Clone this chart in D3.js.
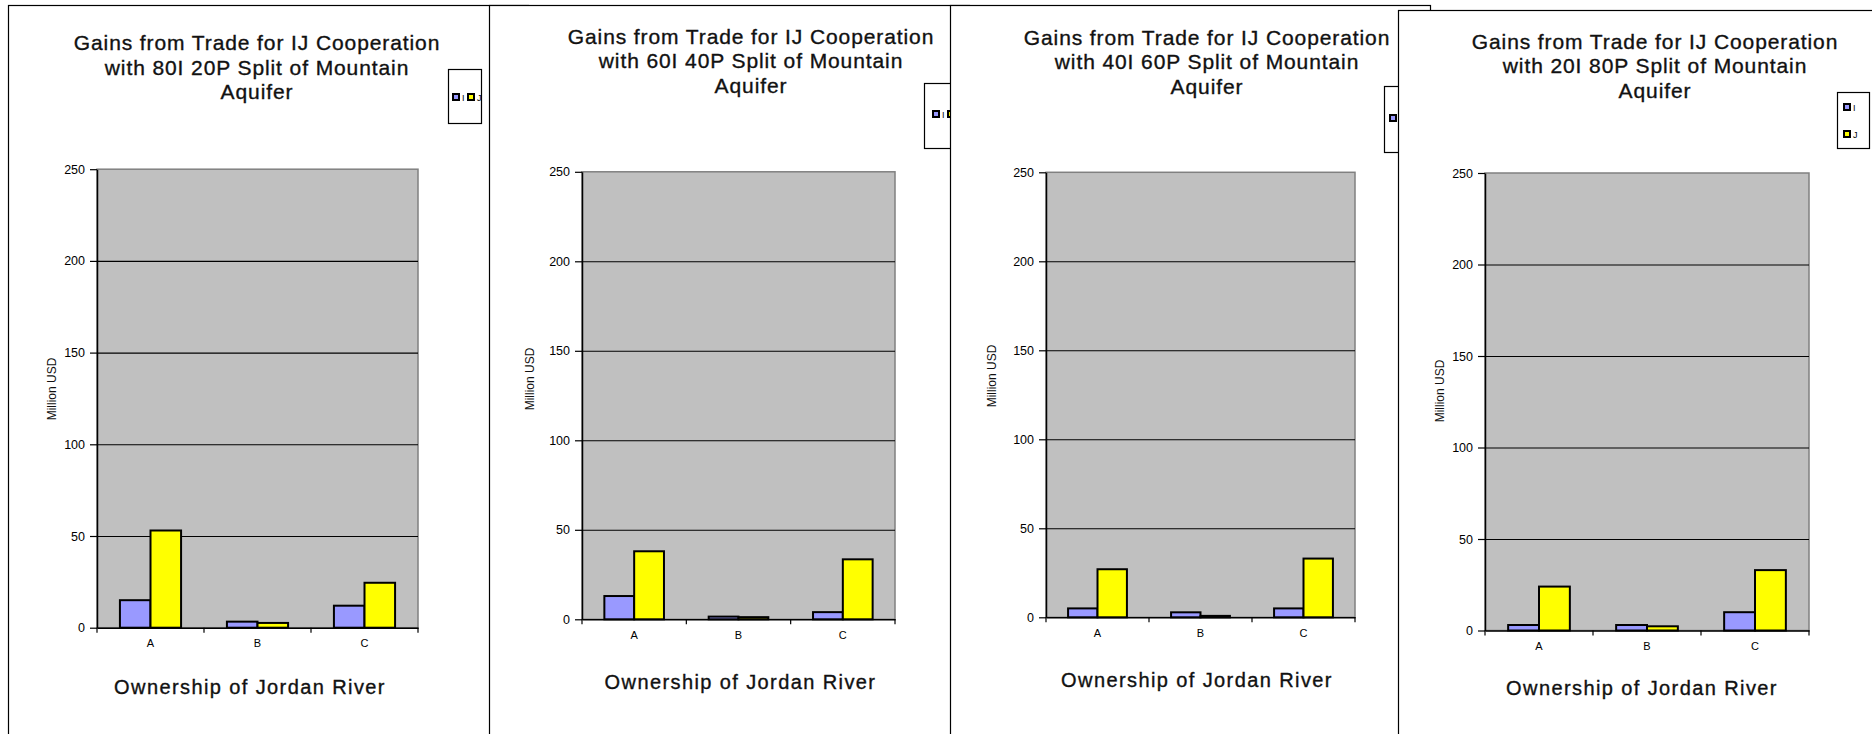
<!DOCTYPE html>
<html>
<head>
<meta charset="utf-8">
<script src="https://cdn.jsdelivr.net/npm/d3@7"></script>
<style>
  html, body { margin: 0; padding: 0; background: #fff; }
  svg { display: block; font-family: "Liberation Sans", Arial, sans-serif; }
</style>
</head>
<body>
<svg id="chart" width="1872" height="734"></svg>
<script>
// ---- data ----
const categories = ["A", "B", "C"];
const seriesNames = ["I", "J"];
const splits = ["80I 20P", "60I 40P", "40I 60P", "20I 80P"];
const valuesI = [
  [15, 3.3, 12],
  [13, 1.5, 4],
  [5, 2.8, 5],
  [3, 3, 10]
];
const valuesJ = [
  [53, 2.6, 24.5],
  [38, 1.2, 33.5],
  [27, 0.8, 33],
  [24, 2.3, 33]
];
const yTicks = [0, 50, 100, 150, 200, 250];
const xTitle = "Ownership of Jordan River";
const yTitle = "Million USD";

// ---- layout (positions only) ----
const layout = [
  {px: 8, py: 5, pw: 520, left: 97, right: 418, y0: 627.7, yTop: 169.2, tcx: 257, ty: 42.5, xtx: 250, xty: 687, ylx: 52, yly: 389,
   legend: {x: 448, y: 69, w: 33, h: 54, dir: "h", ex: 452, ey: 97}},
  {px: 489, py: 5, pw: 480, left: 582, right: 895, y0: 619.3, yTop: 171.8, tcx: 751, ty: 36, xtx: 740.5, xty: 682, ylx: 530, yly: 379,
   legend: {x: 924, y: 83, w: 40, h: 65, dir: "h", ex: 932, ey: 114}},
  {px: 950, py: 5, pw: 480, left: 1046, right: 1355, y0: 617.3, yTop: 172.3, tcx: 1207, ty: 37, xtx: 1197, xty: 680, ylx: 992, yly: 376,
   legend: {x: 1384, y: 86, w: 40, h: 66, dir: "h", ex: 1389, ey: 118}},
  {px: 1398, py: 10, pw: 500, left: 1485, right: 1809, y0: 630.5, yTop: 173, tcx: 1655, ty: 41, xtx: 1642, xty: 688, ylx: 1440, yly: 391,
   legend: {x: 1837, y: 92, w: 32, h: 56, dir: "v", ex: 1843, ey: 107}}
];

const colors = {I: "#9999FF", J: "#FFFF00"};
const svg = d3.select("#chart");
const defs = svg.append("defs");

layout.forEach((L, i) => {
  const g = svg.append("g");
  // panel background/border (later panels cover earlier ones)
  g.append("rect")
    .attr("x", L.px + 0.5).attr("y", L.py + 0.5)
    .attr("width", L.pw).attr("height", 800)
    .attr("fill", "#fff").attr("stroke", "#000").attr("stroke-width", 1.2);

  const x = d3.scaleBand().domain(categories).range([L.left, L.right]).paddingInner(0).paddingOuter(0);
  const x1 = d3.scaleBand().domain(seriesNames).range([0, x.bandwidth()]).paddingInner(0).paddingOuter(0.75);
  const y = d3.scaleLinear().domain([0, 250]).range([L.y0, L.yTop]);

  // plot area
  g.append("rect")
    .attr("x", L.left).attr("y", y(250))
    .attr("width", L.right - L.left).attr("height", y(0) - y(250))
    .attr("fill", "#C0C0C0").attr("stroke", "#808080").attr("stroke-width", 1.5);

  // gridlines
  const grid = g.append("g").attr("transform", `translate(${L.left},0)`)
    .call(d3.axisLeft(y).tickValues(yTicks.filter(t => t > 0 && t < 250)).tickSize(-(L.right - L.left)).tickFormat(""));
  grid.select(".domain").remove();
  grid.selectAll("line").attr("stroke", "#000").attr("stroke-width", 1.1);

  // y axis
  const ya = g.append("g").attr("transform", `translate(${L.left},0)`)
    .call(d3.axisLeft(y).tickValues(yTicks).tickSize(7).tickPadding(5).tickSizeOuter(0));
  ya.select(".domain").attr("stroke", "#000").attr("stroke-width", 1.5);
  ya.selectAll("line").attr("stroke", "#000").attr("stroke-width", 1.2);
  ya.selectAll("text").attr("font-size", 12.5).attr("fill", "#000")
    .attr("font-family", "'Liberation Sans', Arial, sans-serif");

  // bars
  const rows = categories.map((c, k) => ({c, vals: [{s: "I", v: valuesI[i][k]}, {s: "J", v: valuesJ[i][k]}]}));
  g.append("g").selectAll("g").data(rows).join("g")
    .attr("transform", d => `translate(${x(d.c)},0)`)
    .selectAll("rect").data(d => d.vals).join("rect")
    .attr("x", d => x1(d.s)).attr("width", x1.bandwidth())
    .attr("y", d => y(d.v)).attr("height", d => y(0) - y(d.v))
    .attr("fill", d => colors[d.s]).attr("stroke", "#000").attr("stroke-width", 2);

  // x axis
  const xa = g.append("g").attr("transform", `translate(0,${y(0)})`)
    .call(d3.axisBottom(x).tickSize(0).tickPadding(12).tickSizeOuter(0));
  xa.select(".domain").attr("stroke", "#000").attr("stroke-width", 1.5);
  xa.selectAll("text").attr("font-size", 11).attr("fill", "#000")
    .attr("font-family", "'Liberation Sans', Arial, sans-serif");
  // tick marks between categories
  const bounds = categories.map(c => x(c)).concat([x.range()[1]]);
  g.append("g").selectAll("line").data(bounds).join("line")
    .attr("x1", d => d).attr("x2", d => d)
    .attr("y1", y(0)).attr("y2", y(0) + 5)
    .attr("stroke", "#000").attr("stroke-width", 1.2);

  // title
  const lines = ["Gains from Trade for IJ Cooperation", `with ${splits[i]} Split of Mountain`, "Aquifer"];
  g.append("g").selectAll("text").data(lines).join("text")
    .attr("x", L.tcx).attr("y", (d, k) => L.ty + k * 24.5 + 7.5)
    .attr("text-anchor", "middle").attr("font-size", 21)
    .attr("letter-spacing", 0.9)
    .attr("stroke", "#111").attr("stroke-width", 0.35)
    .attr("fill", "#111").text(d => d);

  // x title
  g.append("text").attr("x", L.xtx).attr("y", L.xty + 7)
    .attr("text-anchor", "middle").attr("font-size", 20)
    .attr("letter-spacing", 1.4)
    .attr("stroke", "#111").attr("stroke-width", 0.35)
    .attr("fill", "#111").text(xTitle);

  // y title
  g.append("text")
    .attr("transform", `translate(${L.ylx + 4},${L.yly}) rotate(-90)`)
    .attr("text-anchor", "middle").attr("font-size", 12)
    .attr("fill", "#111").text(yTitle);

  // legend
  const lg = L.legend;
  const clipId = "lgclip" + i;
  defs.append("clipPath").attr("id", clipId).append("rect")
    .attr("x", lg.x).attr("y", lg.y).attr("width", lg.w).attr("height", lg.h);
  const leg = g.append("g");
  leg.append("rect").attr("x", lg.x + 0.5).attr("y", lg.y + 0.5).attr("width", lg.w).attr("height", lg.h)
    .attr("fill", "#fff").attr("stroke", "#000").attr("stroke-width", 1.2);
  const items = leg.append("g").attr("clip-path", `url(#${clipId})`)
    .selectAll("g").data(seriesNames).join("g")
    .attr("transform", (d, k) => lg.dir === "h"
      ? `translate(${lg.ex + k * 15},${lg.ey})`
      : `translate(${lg.ex},${lg.ey + k * 27})`);
  items.append("rect").attr("x", 1).attr("y", -3).attr("width", 6).attr("height", 6)
    .attr("fill", d => colors[d]).attr("stroke", "#000").attr("stroke-width", 2);
  items.append("text").attr("x", 10).attr("y", 3.5).attr("font-size", 9).attr("fill", "#000").text(d => d);
});
</script>
</body>
</html>
